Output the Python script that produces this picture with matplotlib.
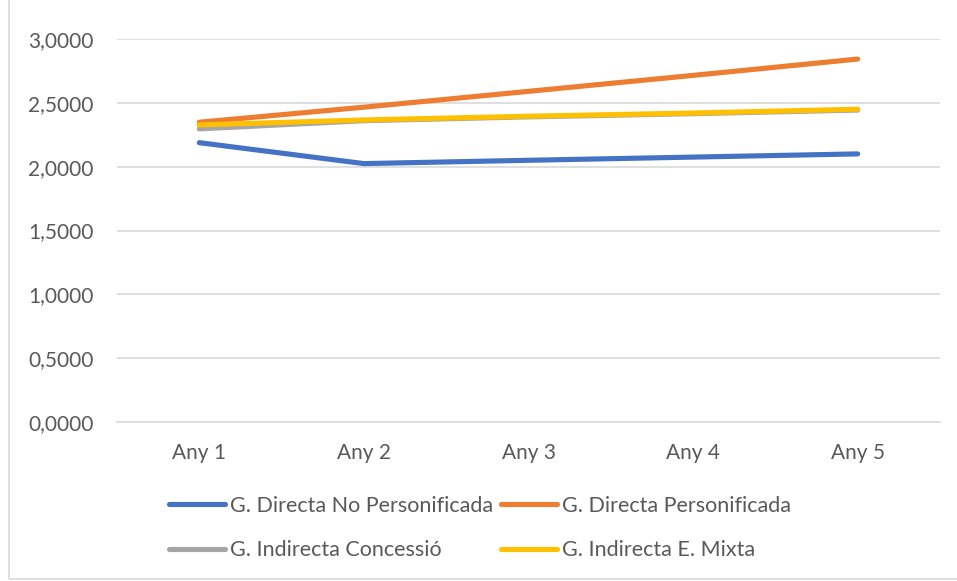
import matplotlib.pyplot as plt
from matplotlib.ticker import FuncFormatter
from matplotlib.patches import Rectangle

# Data
years = ["Any 1", "Any 2", "Any 3", "Any 4", "Any 5"]
directa_no_pers = [2.188, 2.024, 2.050, 2.075, 2.100]
directa_pers = [2.348, 2.466, 2.590, 2.715, 2.843]
indirecta_concessio = [2.296, 2.360, 2.390, 2.415, 2.443]
indirecta_mixta = [2.327, 2.366, 2.395, 2.420, 2.450]

series = [
    ("G. Directa No Personificada", directa_no_pers, "#4472C4"),
    ("G. Directa Personificada", directa_pers, "#ED7D31"),
    ("G. Indirecta Concessió", indirecta_concessio, "#A5A5A5"),
    ("G. Indirecta E. Mixta", indirecta_mixta, "#FFC000"),
]

plt.rcParams["font.family"] = ["Lato", "DejaVu Sans"]
text_col = "#595959"
fs = 15

fig = plt.figure(figsize=(9.57, 5.81), dpi=100)
ax = fig.add_axes([117 / 957, 1 - 422 / 581, (940 - 117) / 957, (422 - 39) / 581])

x = list(range(len(years)))
lines = []
for name, vals, col in series:
    ln, = ax.plot(x, vals, color=col, linewidth=3.7, solid_capstyle="round", label=name)
    lines.append(ln)

ax.set_xlim(-0.5, len(years) - 0.5)
ax.set_ylim(0, 3.0)
ax.set_yticks([0, 0.5, 1.0, 1.5, 2.0, 2.5, 3.0])
ax.yaxis.set_major_formatter(FuncFormatter(lambda v, p: f"{v:.4f}".replace(".", ",")))
ax.set_xticks(x)
ax.set_xticklabels(years)
ax.grid(axis="y", color="#D9D9D9", linewidth=1.2)
ax.set_axisbelow(True)
for s in ["top", "right", "left"]:
    ax.spines[s].set_visible(False)
ax.spines["bottom"].set_color("#D9D9D9")
ax.spines["bottom"].set_linewidth(1.2)
ax.tick_params(axis="both", length=0, labelsize=fs, colors=text_col)
ax.tick_params(axis="x", pad=15)
ax.tick_params(axis="y", pad=17)

# chart border
fig.patches.append(Rectangle((9 / 957, 0.003), 1.2, 1.2, transform=fig.transFigure,
                             fill=False, edgecolor="#D9D9D9", linewidth=1.2))

# legend laid out row by row, like the original
order = [0, 2, 1, 3]
fig.legend([lines[i] for i in order], [series[i][0] for i in order],
           loc="upper left", bbox_to_anchor=(160 / 957, 1 - 487 / 581), ncol=2,
           frameon=False, fontsize=15.5, handlelength=2.6, handletextpad=0.25,
           columnspacing=0.35, labelspacing=1.15, labelcolor=text_col,
           borderaxespad=0)

fig.savefig("out.png", dpi=100)
